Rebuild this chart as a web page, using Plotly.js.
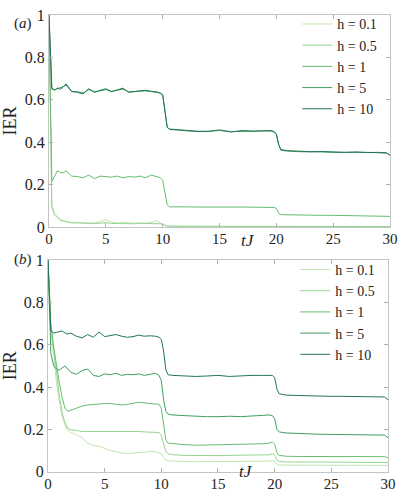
<!DOCTYPE html>
<html>
<head>
<meta charset="utf-8">
<script src="https://cdn.plot.ly/plotly-3.0.1.min.js"></script>
<style>
  html, body { margin: 0; padding: 0; background: #fff; }
  #chart { width: 399px; height: 493px; }
</style>
</head>
<body>
<div id="chart"></div>
<script>
// time axis (tJ), shared by both panels
var t = [0, 0.25, 0.5, 0.75, 1, 1.25, 1.5, 1.75, 2,
  2.5, 3, 3.5, 4, 4.5, 5, 5.5, 6, 6.5, 7, 7.5, 8, 8.5, 9, 9.5,
  9.8, 10, 10.2, 10.4, 10.6,
  11, 12, 13, 14, 15, 16, 17, 18, 19,
  19.5, 19.8, 20, 20.2, 20.4,
  21, 22, 23, 24, 25, 26, 27, 28, 29,
  29.7, 30];

var labels = ["h = 0.1", "h = 0.5", "h = 1", "h = 5", "h = 10"];
var colors = ["#bfe5ae", "#95d491", "#66bd6f", "#3f9d62", "#237653"];

// panel (a)
var a01 = [1, 0.09, 0.055, 0.04, 0.03, 0.028, 0.025, 0.022, 0.02,
  0.022, 0.02, 0.018, 0.02, 0.025, 0.035, 0.022, 0.018, 0.022, 0.02, 0.018, 0.02, 0.018, 0.022, 0.03,
  0.018, 0.012, 0.007, 0.004, 0.003,
  0.003, 0.002, 0.002, 0.002, 0.002, 0.002, 0.002, 0.002, 0.002,
  0.002, 0.002, 0.001, 0.001, 0.001,
  0.001, 0.001, 0.001, 0.001, 0.001, 0.001, 0.001, 0.001, 0.001,
  0.001, 0.001];
var a05 = [1, 0.1, 0.06, 0.045, 0.035, 0.03, 0.025, 0.022, 0.02,
  0.018, 0.018, 0.017, 0.016, 0.018, 0.02, 0.017, 0.016, 0.018, 0.016, 0.015, 0.017, 0.016, 0.018, 0.016,
  0.015, 0.012, 0.008, 0.005, 0.004,
  0.004, 0.003, 0.003, 0.003, 0.003, 0.003, 0.003, 0.003, 0.003,
  0.003, 0.003, 0.002, 0.002, 0.002,
  0.002, 0.002, 0.002, 0.002, 0.002, 0.002, 0.002, 0.002, 0.002,
  0.002, 0.002];
var a1 = [1, 0.215, 0.24, 0.265, 0.258, 0.255, 0.265, 0.25, 0.24,
  0.238, 0.232, 0.245, 0.228, 0.24, 0.238, 0.235, 0.24, 0.232, 0.238, 0.235, 0.24, 0.232, 0.245, 0.238,
  0.232, 0.22, 0.17, 0.105, 0.095,
  0.094, 0.095, 0.094, 0.093, 0.095, 0.094, 0.094, 0.093, 0.094,
  0.093, 0.092, 0.088, 0.065, 0.058,
  0.057, 0.056, 0.056, 0.055, 0.055, 0.054, 0.055, 0.054, 0.053,
  0.053, 0.05];
var a5 = [1, 0.65, 0.648, 0.652, 0.655, 0.662, 0.67, 0.655, 0.638,
  0.638, 0.632, 0.648, 0.638, 0.642, 0.648, 0.64, 0.645, 0.65, 0.638, 0.64, 0.642, 0.642, 0.638, 0.638,
  0.63, 0.622, 0.55, 0.47, 0.46,
  0.458, 0.456, 0.45, 0.452, 0.455, 0.45, 0.452, 0.454, 0.453,
  0.452, 0.448, 0.438, 0.39, 0.362,
  0.358, 0.355, 0.356, 0.354, 0.352, 0.353, 0.352, 0.352, 0.35,
  0.348, 0.34];
var a10 = [1, 0.655, 0.645, 0.655, 0.65, 0.66, 0.675, 0.66, 0.64,
  0.635, 0.628, 0.652, 0.635, 0.645, 0.652, 0.638, 0.648, 0.655, 0.635, 0.638, 0.64, 0.645, 0.64, 0.636,
  0.632, 0.625, 0.55, 0.47, 0.462,
  0.46, 0.455, 0.452, 0.45, 0.458, 0.448, 0.455, 0.452, 0.456,
  0.455, 0.45, 0.44, 0.39, 0.365,
  0.36, 0.357, 0.355, 0.356, 0.353, 0.352, 0.354, 0.351, 0.352,
  0.35, 0.338];

// panel (b)
var b01 = [1, 0.66, 0.55, 0.42, 0.33, 0.26, 0.22, 0.195, 0.185,
  0.175, 0.16, 0.135, 0.125, 0.12, 0.11, 0.1, 0.095, 0.088, 0.085, 0.088, 0.09, 0.093, 0.095, 0.094,
  0.09, 0.085, 0.068, 0.056, 0.052,
  0.05, 0.048, 0.047, 0.047, 0.047, 0.047, 0.047, 0.048, 0.048,
  0.05, 0.052, 0.048, 0.036, 0.032,
  0.031, 0.031, 0.031, 0.031, 0.031, 0.031, 0.031, 0.031, 0.031,
  0.031, 0.03];
var b05 = [1, 0.68, 0.58, 0.46, 0.36, 0.28, 0.23, 0.205, 0.198,
  0.195, 0.19, 0.19, 0.19, 0.192, 0.193, 0.192, 0.19, 0.19, 0.19, 0.19, 0.19, 0.188, 0.187, 0.187,
  0.185, 0.17, 0.13, 0.095, 0.085,
  0.08, 0.077, 0.076, 0.076, 0.076, 0.077, 0.077, 0.078, 0.078,
  0.08, 0.085, 0.078, 0.055, 0.048,
  0.046, 0.045, 0.045, 0.045, 0.045, 0.045, 0.045, 0.045, 0.045,
  0.045, 0.043];
var b1 = [1, 0.7, 0.59, 0.5, 0.42, 0.35, 0.3, 0.285, 0.29,
  0.3, 0.31, 0.315, 0.318, 0.32, 0.322, 0.322, 0.318, 0.315, 0.318, 0.322, 0.328, 0.325, 0.322, 0.322,
  0.318, 0.3, 0.22, 0.15, 0.135,
  0.132, 0.128, 0.125, 0.126, 0.127, 0.128, 0.128, 0.13, 0.132,
  0.135, 0.14, 0.13, 0.09, 0.077,
  0.073, 0.072, 0.072, 0.071, 0.071, 0.071, 0.071, 0.072, 0.072,
  0.071, 0.066];
var b5 = [1, 0.56, 0.5, 0.485, 0.48, 0.49, 0.5, 0.485, 0.47,
  0.46, 0.478, 0.485, 0.455, 0.45, 0.462, 0.458, 0.465, 0.455, 0.46, 0.458, 0.462, 0.455, 0.46, 0.465,
  0.455, 0.43, 0.34, 0.285, 0.272,
  0.268, 0.265, 0.262, 0.26, 0.26, 0.262, 0.26, 0.262, 0.265,
  0.268, 0.265, 0.25, 0.2, 0.188,
  0.183, 0.18, 0.178, 0.177, 0.176, 0.175, 0.175, 0.175, 0.175,
  0.173, 0.16];
var b10 = [1, 0.665, 0.655, 0.658, 0.66, 0.665, 0.655, 0.65, 0.655,
  0.64, 0.632, 0.648, 0.635, 0.66, 0.638, 0.642, 0.648, 0.64, 0.635, 0.638, 0.645, 0.64, 0.642, 0.64,
  0.635, 0.625, 0.57, 0.48, 0.458,
  0.455, 0.452, 0.45, 0.452, 0.455, 0.45, 0.453, 0.455, 0.455,
  0.457, 0.455, 0.445, 0.39, 0.368,
  0.362, 0.36, 0.358, 0.357, 0.356, 0.356, 0.355, 0.356, 0.355,
  0.353, 0.34];

var serif = "'Liberation Serif', 'Times New Roman', serif";
var seriesA = [a01, a05, a1, a5, a10];
var seriesB = [b01, b05, b1, b5, b10];
var traces = [];

seriesA.forEach(function(y, i) {
    traces.push({
        x: t, y: y, type: 'scatter', mode: 'lines',
        name: labels[i], line: {color: colors[i], width: 1},
        xaxis: 'x', yaxis: 'y', legend: 'legend'
    });
});
seriesB.forEach(function(y, i) {
    traces.push({
        x: t, y: y, type: 'scatter', mode: 'lines',
        name: labels[i], line: {color: colors[i], width: 1},
        xaxis: 'x2', yaxis: 'y2', legend: 'legend2'
    });
});

function xAxis(domain, anchor) {
    return {
        domain: domain, anchor: anchor, range: [0, 30],
        tickvals: [0, 5, 10, 15, 20, 25, 30],
        ticks: 'inside', ticklen: 4, tickcolor: '#b0b0b0',
        showline: true, linecolor: '#c4c4c4', linewidth: 1, mirror: 'ticks',
        showgrid: false, zeroline: false,
        ticklabelstandoff: -2,
        tickfont: {family: serif, size: 15, color: '#222'}
    };
}
function yAxis(domain, anchor) {
    return {
        domain: domain, anchor: anchor, range: [0, 1],
        tickvals: [0, 0.2, 0.4, 0.6, 0.8, 1],
        ticks: 'inside', ticklen: 4, tickcolor: '#b0b0b0',
        showline: true, linecolor: '#c4c4c4', linewidth: 1, mirror: 'ticks',
        showgrid: false, zeroline: false,
        tickfont: {family: serif, size: 16, color: '#222'},
        title: {text: 'IER', font: {family: serif, size: 18, color: '#222'}, standoff: 4}
    };
}

var legendStyle = {
    xanchor: 'left', yanchor: 'top',
    bgcolor: 'rgba(0,0,0,0)', borderwidth: 0,
    itemwidth: 30, tracegroupgap: 0,
    font: {family: serif, size: 14, color: '#222'}
};

var layout = {
    width: 399, height: 493,
    margin: {l: 0, r: 0, t: 0, b: 0},
    paper_bgcolor: '#fff', plot_bgcolor: '#fff',
    xaxis: xAxis([0.1228, 0.9774], 'y'),
    yaxis: yAxis([0.5396, 0.9696], 'x'),
    xaxis2: xAxis([0.1203, 0.9724], 'y2'),
    yaxis2: yAxis([0.0432, 0.4726], 'x2'),
    legend: Object.assign({x: 0.745, y: 0.983}, legendStyle),
    legend2: Object.assign({x: 0.74, y: 0.485}, legendStyle),
    annotations: [
        {text: '(<i>a</i>)', xref: 'paper', yref: 'paper', x: 0.085, y: 0.974,
         xanchor: 'right', showarrow: false, font: {family: serif, size: 15, color: '#222'}},
        {text: '(<i>b</i>)', xref: 'paper', yref: 'paper', x: 0.085, y: 0.474,
         xanchor: 'right', showarrow: false, font: {family: serif, size: 15, color: '#222'}},
        {text: '<i>tJ</i>', xref: 'x', yref: 'paper', x: 17.5, y: 0.513,
         showarrow: false, font: {family: serif, size: 17, color: '#222'}},
        {text: '<i>tJ</i>', xref: 'x2', yref: 'paper', x: 17.5, y: 0.021,
         showarrow: false, font: {family: serif, size: 17, color: '#222'}}
    ],
    showlegend: true
};

Plotly.newPlot('chart', traces, layout, {displayModeBar: false, staticPlot: true});
</script>
</body>
</html>
